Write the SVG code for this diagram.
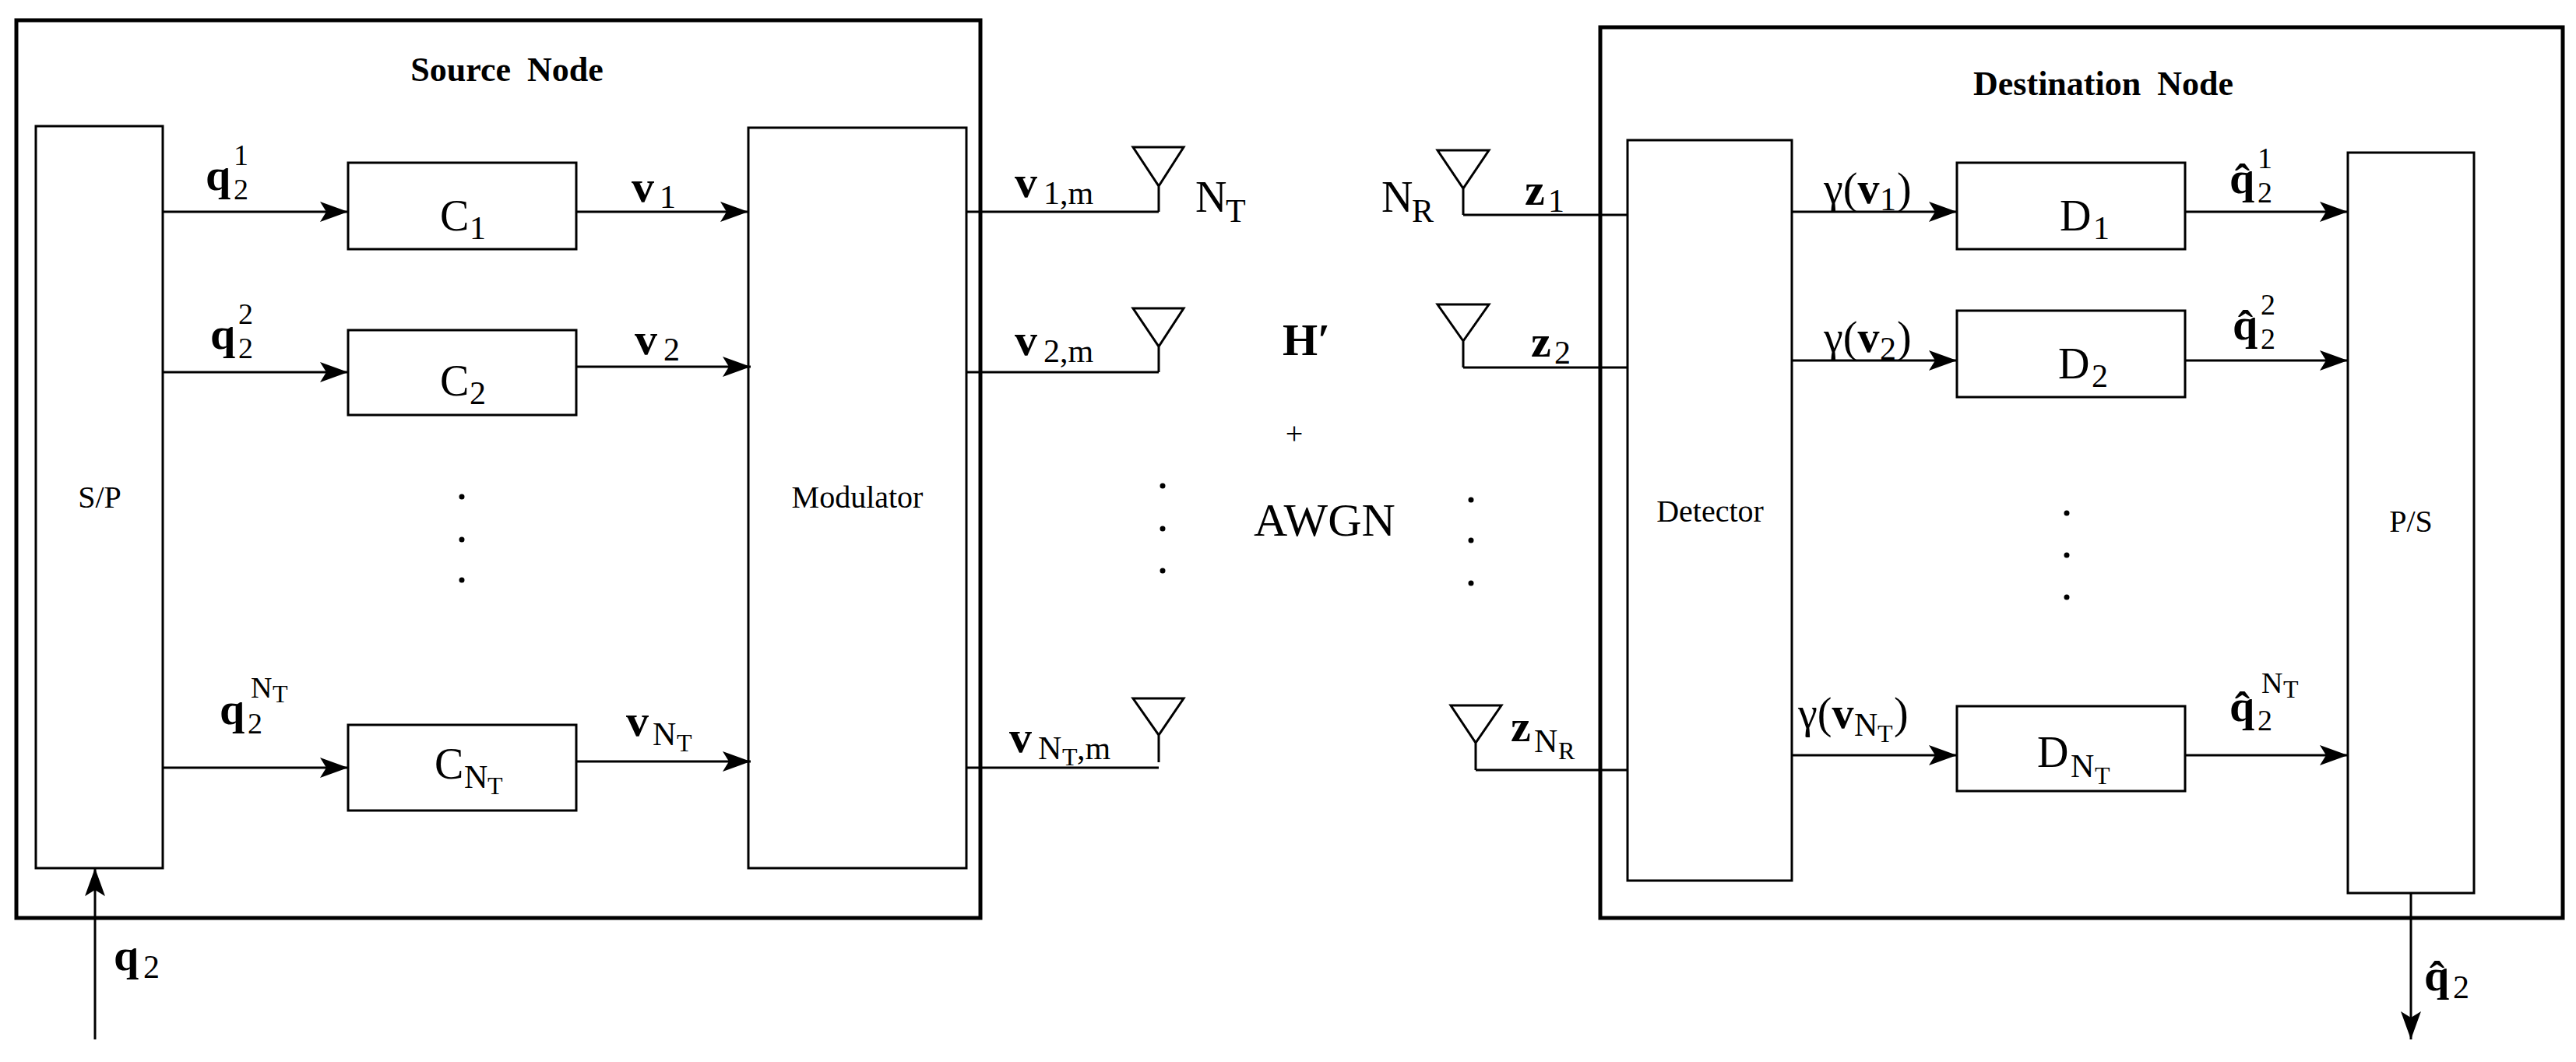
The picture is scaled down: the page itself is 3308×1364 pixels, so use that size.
<svg xmlns="http://www.w3.org/2000/svg" width="3308" height="1364" viewBox="0 0 3308 1364">
<style>
text{font-family:"Liberation Serif","Times New Roman",serif;fill:#000}
.b{font-weight:bold}
.big{font-size:56px}
.mb{font-size:58px;font-weight:bold}
.sub{font-size:42px}
.sc{font-size:38px}
.ss{font-size:32px}
.box{fill:#fff;stroke:#000;stroke-width:3}
.frame{fill:none;stroke:#000;stroke-width:5}
.ln{fill:none;stroke:#000;stroke-width:3}
.lab{font-size:40px}
.ttl{font-size:44px;font-weight:bold}
</style>
<defs>
<marker id="ah" markerUnits="userSpaceOnUse" markerWidth="40" markerHeight="30" refX="36" refY="13" orient="auto">
<path d="M0,0 L36,13 L0,26 L8,13 Z" fill="#000"/>
</marker>
</defs>
<rect width="3308" height="1364" fill="#fff"/>

<g id="source-node">
<rect class="frame" x="21" y="26" width="1238" height="1153"/>
<text class="ttl" x="651" y="104" text-anchor="middle" style="word-spacing:10px">Source Node</text>
</g>
<g id="sp"><rect class="box" x="46" y="162" width="163" height="953"/><text class="lab" x="128" y="652" text-anchor="middle">S/P</text></g>
<g id="c1"><rect class="box" x="447" y="209" width="293" height="111"/><text class="big" x="565" y="296">C</text><text class="sub" x="603" y="307">1</text></g>
<g id="c2"><rect class="box" x="447" y="424" width="293" height="109"/><text class="big" x="565" y="508">C</text><text class="sub" x="603" y="519">2</text></g>
<g id="cnt"><rect class="box" x="447" y="931" width="293" height="110"/><text class="big" x="558" y="1000">C</text><text class="sub" x="596" y="1012">N</text><text class="ss" x="626" y="1020">T</text></g>
<g id="modulator"><rect class="box" x="961" y="164" width="280" height="951"/><text class="lab" x="1101" y="652" text-anchor="middle">Modulator</text></g>

<g id="dest-node">
<rect class="frame" x="2055" y="35" width="1236" height="1144"/>
<text class="ttl" x="2701" y="122" text-anchor="middle" style="word-spacing:10px">Destination Node</text>
</g>
<g id="detector"><rect class="box" x="2090" y="180" width="211" height="951"/><text class="lab" x="2196" y="670" text-anchor="middle">Detector</text></g>
<g id="d1"><rect class="box" x="2513" y="209" width="293" height="111"/><text class="big" x="2645" y="296">D</text><text class="sub" x="2688" y="307">1</text></g>
<g id="d2"><rect class="box" x="2513" y="399" width="293" height="111"/><text class="big" x="2643" y="486">D</text><text class="sub" x="2686" y="497">2</text></g>
<g id="dnt"><rect class="box" x="2513" y="907" width="293" height="109"/><text class="big" x="2616" y="985">D</text><text class="sub" x="2659" y="998">N</text><text class="ss" x="2690" y="1007">T</text></g>
<g id="ps"><rect class="box" x="3015" y="196" width="162" height="951"/><text class="lab" x="3096" y="683" text-anchor="middle">P/S</text></g>

<g id="tx-antennas">
<path class="ln" d="M1455,189 L1520,189 L1488,239 Z M1488,239 V272"/>
<path class="ln" d="M1455,396 L1520,396 L1488,445 Z M1488,445 V478"/>
<path class="ln" d="M1455,897 L1520,897 L1488,944 Z M1488,944 V979"/>
</g>
<g id="rx-antennas">
<path class="ln" d="M1846,193 L1912,193 L1879,242 Z M1879,242 V276"/>
<path class="ln" d="M1846,391 L1912,391 L1879,438 Z M1879,438 V472"/>
<path class="ln" d="M1863,906 L1928,906 L1895,954 Z M1895,954 V989"/>
</g>

<g id="connectors">
<line class="ln" x1="209" y1="272" x2="447" y2="272" marker-end="url(#ah)"/>
<line class="ln" x1="209" y1="478" x2="447" y2="478" marker-end="url(#ah)"/>
<line class="ln" x1="209" y1="986" x2="447" y2="986" marker-end="url(#ah)"/>
<line class="ln" x1="740" y1="272" x2="961" y2="272" marker-end="url(#ah)"/>
<line class="ln" x1="740" y1="471" x2="964" y2="471" marker-end="url(#ah)"/>
<line class="ln" x1="740" y1="978" x2="964" y2="978" marker-end="url(#ah)"/>
<line class="ln" x1="122" y1="1335" x2="122" y2="1115" marker-end="url(#ah)"/>
<line class="ln" x1="1241" y1="272" x2="1488" y2="272"/>
<line class="ln" x1="1241" y1="478" x2="1488" y2="478"/>
<line class="ln" x1="1241" y1="986" x2="1488" y2="986"/>
<line class="ln" x1="1879" y1="276" x2="2090" y2="276"/>
<line class="ln" x1="1879" y1="472" x2="2090" y2="472"/>
<line class="ln" x1="1895" y1="989" x2="2090" y2="989"/>
<line class="ln" x1="2301" y1="272" x2="2513" y2="272" marker-end="url(#ah)"/>
<line class="ln" x1="2301" y1="463" x2="2513" y2="463" marker-end="url(#ah)"/>
<line class="ln" x1="2301" y1="970" x2="2513" y2="970" marker-end="url(#ah)"/>
<line class="ln" x1="2806" y1="272" x2="3015" y2="272" marker-end="url(#ah)"/>
<line class="ln" x1="2806" y1="463" x2="3015" y2="463" marker-end="url(#ah)"/>
<line class="ln" x1="2806" y1="970" x2="3015" y2="970" marker-end="url(#ah)"/>
<line class="ln" x1="3096" y1="1147" x2="3096" y2="1335" marker-end="url(#ah)"/>
</g>

<g id="labels">
<text class="mb" x="264" y="244">q</text><text class="sc" x="300" y="212">1</text><text class="sc" x="300" y="256">2</text>
<text class="mb" x="270" y="448">q</text><text class="sc" x="306" y="416">2</text><text class="sc" x="306" y="460">2</text>
<text class="mb" x="282" y="930">q</text><text class="sc" x="318" y="942">2</text><text class="sc" x="322" y="896">N</text><text class="ss" x="350" y="902">T</text>
<text class="mb" x="811" y="259">v</text><text class="sub" x="847" y="267">1</text>
<text class="mb" x="815" y="455">v</text><text class="sub" x="852" y="463">2</text>
<text class="mb" x="804" y="945">v</text><text class="sub" x="838" y="957">N</text><text class="ss" x="869" y="965">T</text>
<text class="mb" x="146" y="1246">q</text><text class="sub" x="184" y="1256">2</text>

<text class="mb" x="1303" y="253">v</text><text class="sub" x="1340" y="262">1,m</text>
<text class="mb" x="1303" y="456">v</text><text class="sub" x="1340" y="465">2,m</text>
<text class="mb" x="1296" y="966">v</text><text class="sub" x="1333" y="975">N</text><text class="ss" x="1364" y="983">T</text><text class="sub" x="1383" y="975">,m</text>
<text class="big" x="1535" y="272">N</text><text class="sub" x="1574" y="285">T</text>
<text class="big" x="1774" y="272">N</text><text class="sub" x="1813" y="285">R</text>
<text class="mb" x="1958" y="263">z</text><text class="sub" x="1988" y="272">1</text>
<text class="mb" x="1966" y="458">z</text><text class="sub" x="1996" y="467">2</text>
<text class="mb" x="1940" y="952">z</text><text class="sub" x="1970" y="966">N</text><text class="ss" x="2001" y="975">R</text>
<text class="mb" x="1647" y="456">H′</text>
<text class="lab" x="1662" y="570" text-anchor="middle">+</text>
<text style="font-size:60px" x="1610" y="688">AWGN</text>

<text class="big" x="2342" y="261">γ(<tspan class="b">v</tspan></text><text class="sub" x="2414" y="270">1</text><text class="big" x="2436" y="261">)</text>
<text class="big" x="2342" y="452">γ(<tspan class="b">v</tspan></text><text class="sub" x="2414" y="462">2</text><text class="big" x="2436" y="452">)</text>
<text class="big" x="2309" y="935">γ(<tspan class="b">v</tspan></text><text class="sub" x="2381" y="945">N</text><text class="ss" x="2411" y="953">T</text><text class="big" x="2432" y="935">)</text>
<text class="mb" x="2863" y="248">q̂</text><text class="sc" x="2899" y="216">1</text><text class="sc" x="2899" y="260">2</text>
<text class="mb" x="2867" y="436">q̂</text><text class="sc" x="2903" y="404">2</text><text class="sc" x="2903" y="448">2</text>
<text class="mb" x="2863" y="926">q̂</text><text class="sc" x="2899" y="938">2</text><text class="sc" x="2904" y="890">N</text><text class="ss" x="2932" y="896">T</text>
<text class="mb" x="3113" y="1272">q̂</text><text class="sub" x="3150" y="1282">2</text>
</g>

<g id="dots">
<circle cx="593" cy="638" r="3.5"/><circle cx="593" cy="693" r="3.5"/><circle cx="593" cy="745" r="3.5"/>
<circle cx="1493" cy="624" r="3.5"/><circle cx="1493" cy="679" r="3.5"/><circle cx="1493" cy="733" r="3.5"/>
<circle cx="1889" cy="642" r="3.5"/><circle cx="1889" cy="694" r="3.5"/><circle cx="1889" cy="749" r="3.5"/>
<circle cx="2654" cy="659" r="3.5"/><circle cx="2654" cy="713" r="3.5"/><circle cx="2654" cy="767" r="3.5"/>
</g>
</svg>
